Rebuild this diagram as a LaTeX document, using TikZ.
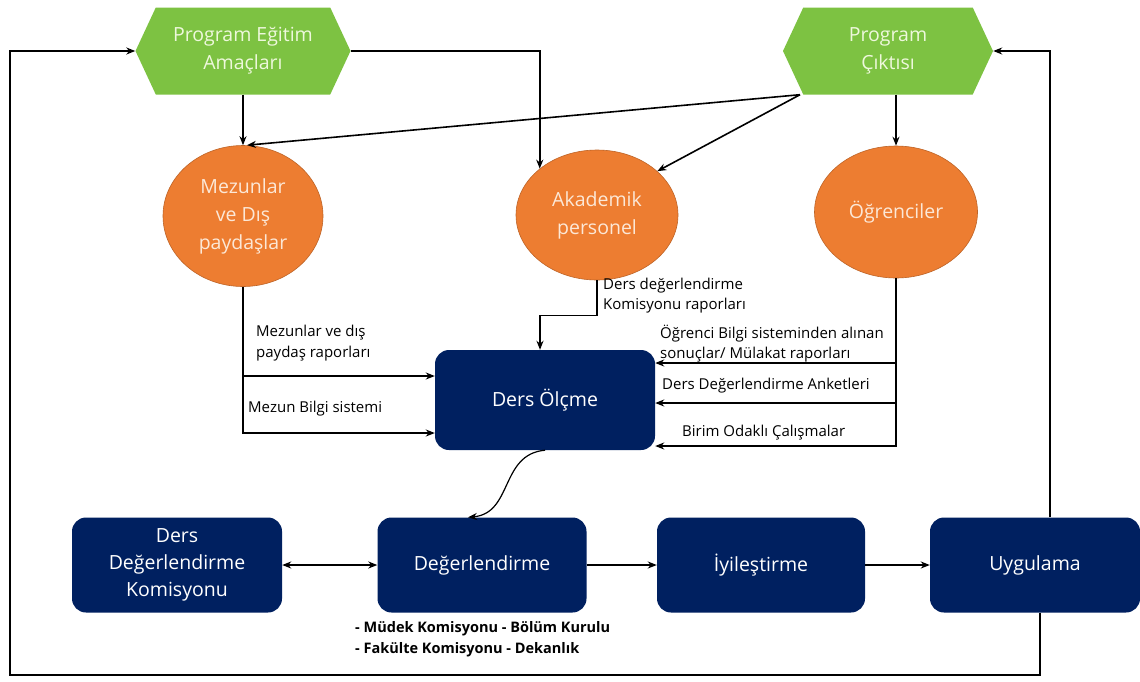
\documentclass[tikz,border=0pt]{standalone}
\usepackage{fontspec}
\setmainfont{Open Sans}
\usetikzlibrary{arrows.meta,shapes.geometric,shapes.symbols}
\definecolor{navy}{RGB}{0,32,96}
\definecolor{grn}{RGB}{125,194,66}
\definecolor{org}{RGB}{237,125,49}
\definecolor{hextxt}{RGB}{238,248,220}
\definecolor{ovtxt}{RGB}{252,232,215}
\begin{document}
\begin{tikzpicture}[x=1pt,y=-1pt,
 hexa/.style={signal, signal to=east and west, signal pointer angle=130, fill=grn, draw=none,
   minimum width=215pt, minimum height=87pt, inner sep=0pt, text=hextxt,
   font=\fontsize{19.5}{28}\selectfont, align=center},
 oval/.style={ellipse, fill=org, draw=org!80!black, line width=0.6pt, text=ovtxt,
   font=\fontsize{19.5}{28}\selectfont, align=center, inner sep=0pt},
 box/.style={rectangle, rounded corners=14pt, fill=navy, text=white, minimum width=210pt,
   minimum height=95pt, font=\fontsize{19.5}{27}\selectfont, align=center, inner sep=0pt},
 conn/.style={line width=1.6pt, -{Stealth[length=9pt,width=7pt]}},
 heavy/.style={line width=2.4pt},
 lbl/.style={font=\fontsize{15}{21}\selectfont, align=left, inner sep=0pt}
]
\useasboundingbox (0,0) rectangle (1140,681);
\fill[white] (0,0) rectangle (1140,681);

% nodes
\node[hexa] (pea) at (243,51) {Program Eğitim\\Amaçları};
\node[hexa, minimum width=210pt] (pc) at (888,51) {Program\\Çıktısı};
\node[oval, minimum width=160pt, minimum height=141pt] (mez) at (243,216) {Mezunlar\\ve Dış\\paydaşlar};
\node[oval, minimum width=162pt, minimum height=130pt] (ak) at (597,215) {Akademik\\personel};
\node[oval, minimum width=163pt, minimum height=132pt] (oc) at (896,212) {Öğrenciler};
\node[box, minimum width=220pt, minimum height=100pt] (dol) at (545,400) {Ders Ölçme};
\node[box] (ddk) at (177,565) {Ders\\Değerlendirme\\Komisyonu};
\node[box, minimum width=209pt] (dev) at (482,565) {Değerlendirme};
\node[box, minimum width=208pt] (iyi) at (761,565) {İyileştirme};
\node[box] (uyg) at (1035,565) {Uygulama};

% labels
\node[lbl, anchor=north west] (l1) at (256,325) {Mezunlar ve dış\\paydaş raporları};
\node[lbl, anchor=north west] (l2) at (248,401) {Mezun Bilgi sistemi};
\node[lbl, font=\fontsize{15}{20}\selectfont, anchor=north west] (l3) at (603,278) {Ders değerlendirme\\Komisyonu raporları};
\node[lbl, font=\fontsize{15}{20}\selectfont, anchor=north west] (l4) at (660,325) {Öğrenci Bilgi sisteminden alınan\\sonuçlar/ Mülakat raporları};
\node[lbl, anchor=north west] (l5) at (662,378) {Ders Değerlendirme Anketleri};
\node[lbl, anchor=north west] (l6) at (682,425) {Birim Odaklı Çalışmalar};
\node[lbl, font=\bfseries\fontsize{14.5}{21}\selectfont, anchor=north west] (l7) at (355,621)
  {- Müdek Komisyonu - Bölüm Kurulu\\- Fakülte Komisyonu - Dekanlık};

% loops
\coordinate (cl) at (10,675);
\draw[conn] ([xshift=5pt]uyg.south) |- (cl) |- (pea.west);
\draw[conn] ([xshift=15pt]uyg.north) |- (pc.east);

% top connectors
\draw[conn] (pea.south) -- (mez.north);
\draw[conn] (pea.east) -| (ak.141);
\draw[conn] ([xshift=-88pt]pc.south) -- ([xshift=4pt]mez.north);
\draw[conn] ([xshift=-88pt]pc.south) -- (ak.36);
\draw[conn] (pc.south -| oc.north) -- (oc.north);

% into Ders Olcme
\draw[conn, heavy] (mez.south) |- ([yshift=24pt]dol.west);
\draw[conn] (mez.south) |- ([yshift=-33pt]dol.west);
\draw[conn] (ak.south) -- ++(0,35) -| ([xshift=-5pt]dol.north);
\draw[conn, heavy] (oc.south) |- ([yshift=37pt]dol.east);
\draw[conn, heavy] (oc.south) |- ([yshift=-3pt]dol.east);
\draw[conn, heavy] (oc.south) |- ([yshift=-46pt]dol.east);

% to bottom row
\draw[conn, line width=1.2pt] (dol.south) .. controls +(-45,4) and +(45,-4) .. ([xshift=-14pt]dev.north);
\draw[conn, {Stealth[length=9pt,width=7pt]}-{Stealth[length=9pt,width=7pt]}] (ddk) -- (dev);
\draw[conn] (dev) -- (iyi);
\draw[conn] (iyi) -- (uyg);
\end{tikzpicture}
\end{document}
